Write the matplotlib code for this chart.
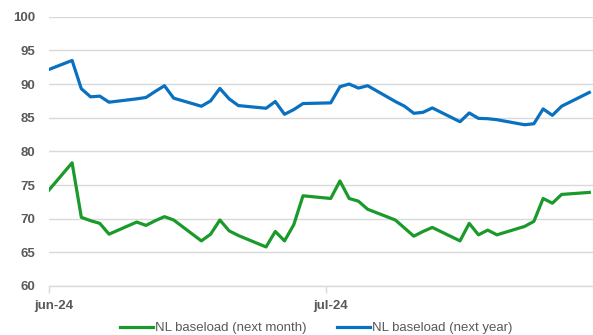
import matplotlib.pyplot as plt
import matplotlib.dates as mdates
import numpy as np
from datetime import datetime, timedelta

# trading days, end of May to end of July 2024
dates = ["2024-05-31",
         "2024-06-03", "2024-06-04", "2024-06-05", "2024-06-06", "2024-06-07",
         "2024-06-10", "2024-06-11", "2024-06-12", "2024-06-13", "2024-06-14",
         "2024-06-17", "2024-06-18", "2024-06-19", "2024-06-20", "2024-06-21",
         "2024-06-24", "2024-06-25", "2024-06-26", "2024-06-27", "2024-06-28",
         "2024-07-01", "2024-07-02", "2024-07-03", "2024-07-04", "2024-07-05",
         "2024-07-08", "2024-07-09", "2024-07-10", "2024-07-11", "2024-07-12",
         "2024-07-15", "2024-07-16", "2024-07-17", "2024-07-18", "2024-07-19",
         "2024-07-22", "2024-07-23", "2024-07-24", "2024-07-25", "2024-07-26",
         "2024-07-29"]

next_month = [73.45,
              78.3, 70.2, 69.7, 69.3, 67.7,
              69.5, 69.0, 69.7, 70.3, 69.8,
              66.7, 67.7, 69.8, 68.2, 67.5,
              65.8, 68.1, 66.7, 69.1, 73.4,
              73.0, 75.6, 73.0, 72.6, 71.4,
              69.8, 68.6, 67.4, 68.1, 68.7,
              66.7, 69.3, 67.6, 68.3, 67.6,
              68.85, 69.6, 73.0, 72.3, 73.6,
              73.9]

next_year = [91.9,
             93.5, 89.3, 88.1, 88.2, 87.3,
             87.8, 88.0, 88.9, 89.75, 87.9,
             86.7, 87.5, 89.35, 87.8, 86.8,
             86.4, 87.4, 85.5, 86.2, 87.1,
             87.2, 89.6, 90.0, 89.4, 89.75,
             87.4, 86.7, 85.65, 85.8, 86.45,
             84.4, 85.7, 84.9, 84.85, 84.7,
             83.95, 84.1, 86.3, 85.35, 86.7,
             88.75]

month_ticks = ["2024-06-01", "2024-07-01"]
month_labels = ["jun-24", "jul-24"]

green = "#1a9a2a"
blue = "#0a70c0"
grey_txt = "#595959"
grid_col = "#d9d9d9"

# excel-style date axis: each point sits in the middle of its day
x = [datetime.strptime(d, "%Y-%m-%d") + timedelta(hours=12) for d in dates]

plt.rcParams['font.family'] = ['Liberation Sans', 'DejaVu Sans']

fig = plt.figure(figsize=(5.93, 3.35), dpi=100)
ax = fig.add_axes([49 / 593, 1 - 286 / 335, 544 / 593, (286 - 16.7) / 335])

ax.plot(x, next_month, color=green, lw=2.3, solid_joinstyle='round',
        label="NL baseload (next month)")
ax.plot(x, next_year, color=blue, lw=2.3, solid_joinstyle='round',
        label="NL baseload (next year)")

x0 = datetime(2024, 6, 1)
ax.set_xlim(x0, x0 + timedelta(days=58.9))
ax.set_ylim(60, 100)
ax.set_yticks(np.arange(60, 101, 5))
ax.yaxis.grid(True, color=grid_col, lw=1)
ax.set_axisbelow(True)

for s in ["left", "right", "top"]:
    ax.spines[s].set_visible(False)
ax.spines["bottom"].set_color(grid_col)
ax.spines["bottom"].set_linewidth(1)

ax.tick_params(axis='y', length=0, pad=10, labelsize=9.5, labelcolor=grey_txt)
for lbl in ax.get_yticklabels():
    lbl.set_fontweight('bold')

# tick marks at month start, labels centred on that day
tick_dates = [datetime.strptime(d, "%Y-%m-%d") for d in month_ticks]
ax.set_xticks(tick_dates)
ax.set_xticklabels([])
ax.tick_params(axis='x', which='major', length=5, color=grid_col, width=1)
ax.set_xticks([d + timedelta(hours=12) for d in tick_dates], minor=True)
ax.set_xticklabels(month_labels, minor=True)
ax.tick_params(axis='x', which='minor', length=0, pad=10, labelsize=9.5,
               labelcolor=grey_txt)
for lbl in ax.get_xticklabels(minor=True):
    lbl.set_fontweight('bold')

fig.legend(loc='center', bbox_to_anchor=(316 / 593, 1 - 328 / 335), ncol=2,
           frameon=False, fontsize=9.5, labelcolor=grey_txt, handlelength=2.5,
           handletextpad=0.15, columnspacing=2.3, borderpad=0)

fig.savefig("out.png", dpi=100)
